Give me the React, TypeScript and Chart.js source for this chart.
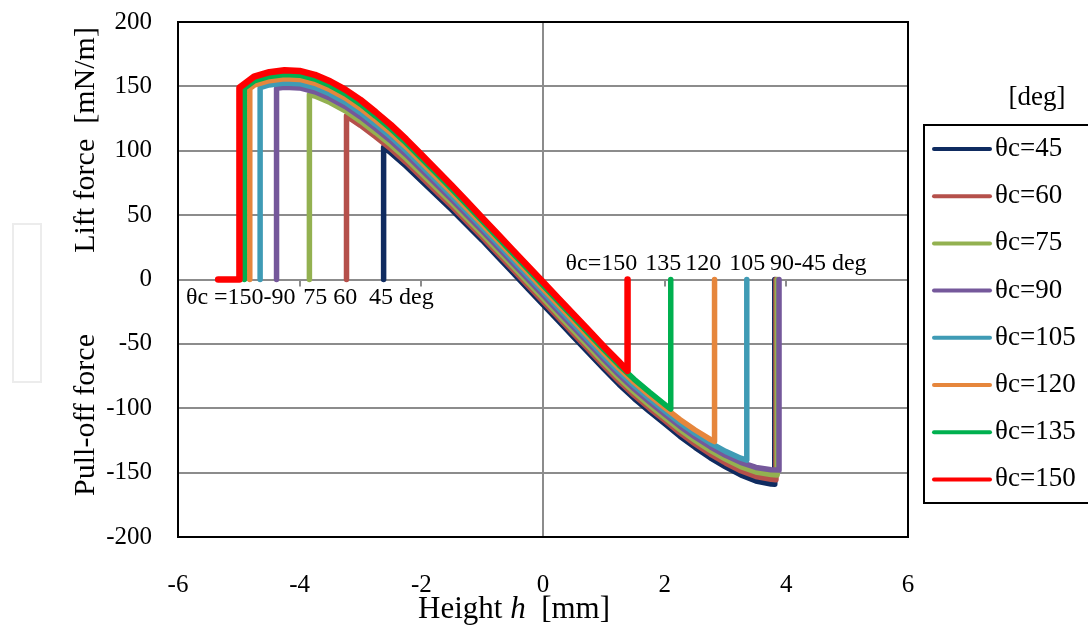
import { useEffect, useRef } from 'react';
import { Chart, registerables } from 'chart.js';

Chart.register(...registerables);

const FONT = '"Liberation Serif", "Times New Roman", serif';

const seriesLabels = ['θc=45', 'θc=60', 'θc=75', 'θc=90', 'θc=105', 'θc=120', 'θc=135', 'θc=150'];
const seriesColors = ['#0f2b60', '#b5504b', '#93b150', '#75589b', '#3f9bb5', '#e6863c', '#00b04f', '#ff0000'];

const xTickValues = [-6, -4, -2, 0, 2, 4, 6];
const yTickStep = 50;

// [height h (mm), force (mN/m)]
const theta45 = [[-2.62,0],[-2.62,102.8],[-2.5,98.3],[-2.25,88],[-2,76.7],[-1.75,65.4],[-1.5,54.1],[-1.25,42.3],[-1,30.5],[-0.75,18],[-0.5,5.5],[-0.25,-7],[0,-19.5],[0.25,-32],[0.5,-44.5],[0.75,-57],[1,-69.5],[1.25,-81.5],[1.5,-92.5],[1.75,-102.5],[2,-112],[2.25,-121.7],[2.5,-130.4],[2.75,-138.5],[3,-145.5],[3.25,-151.8],[3.5,-156.5],[3.75,-158.9],[3.81,-159],[3.81,0]];
const theta60 = [[-3.23,0],[-3.23,127.1],[-3,119.7],[-2.75,110.8],[-2.5,101.4],[-2.25,91],[-2,79.6],[-1.75,68.2],[-1.5,56.8],[-1.25,44.9],[-1,33],[-0.75,20.5],[-0.5,8],[-0.25,-4.5],[0,-17],[0.25,-29.5],[0.5,-42],[0.75,-54.5],[1,-67],[1.25,-79],[1.5,-90],[1.75,-100],[2,-109.5],[2.25,-119.1],[2.5,-127.7],[2.75,-135.6],[3,-142.5],[3.25,-148.5],[3.5,-153],[3.75,-155.2],[3.83,-155.5],[3.83,0]];
const theta75 = [[-3.84,0],[-3.84,143.6],[-3.75,142.5],[-3.5,137.5],[-3.25,131],[-3,123],[-2.75,114],[-2.5,104.5],[-2.25,94],[-2,82.5],[-1.75,71],[-1.5,59.5],[-1.25,47.5],[-1,35.5],[-0.75,23],[-0.5,10.5],[-0.25,-2],[0,-14.5],[0.25,-27],[0.5,-39.5],[0.75,-52],[1,-64.5],[1.25,-76.5],[1.5,-87.5],[1.75,-97.5],[2,-107],[2.25,-116.5],[2.5,-125],[2.75,-132.8],[3,-139.5],[3.25,-145.3],[3.5,-149.5],[3.75,-151.5],[3.85,-151.8],[3.85,0]];
const theta90 = [[-4.38,0],[-4.38,148.5],[-4.25,149.3],[-4,148.8],[-3.75,145.8],[-3.5,140.8],[-3.25,134.3],[-3,126.3],[-2.75,117.2],[-2.5,107.6],[-2.25,97],[-2,85.4],[-1.75,73.8],[-1.5,62.2],[-1.25,50.1],[-1,38],[-0.75,25.5],[-0.5,13],[-0.25,0.5],[0,-12],[0.25,-24.5],[0.5,-37],[0.75,-49.5],[1,-62],[1.25,-74],[1.5,-85],[1.75,-95],[2,-104.5],[2.25,-113.9],[2.5,-122.3],[2.75,-129.9],[3,-136.5],[3.25,-142],[3.5,-146],[3.75,-147.8],[3.88,-148],[3.88,0]];
const theta105 = [[-4.65,0],[-4.65,149],[-4.5,151.1],[-4.25,152.6],[-4,152.1],[-3.75,149.1],[-3.5,144.1],[-3.25,137.6],[-3,129.6],[-2.75,120.4],[-2.5,110.7],[-2.25,100],[-2,88.3],[-1.75,76.6],[-1.5,64.9],[-1.25,52.7],[-1,40.5],[-0.75,28],[-0.5,15.5],[-0.25,3],[0,-9.5],[0.25,-22],[0.5,-34.5],[0.75,-47],[1,-59.5],[1.25,-71.5],[1.5,-82.5],[1.75,-92.5],[2,-102],[2.25,-111.3],[2.5,-119.6],[2.75,-127],[3,-133.5],[3.25,-138.8],[3.35,-140.3],[3.35,0]];
const theta120 = [[-4.82,0],[-4.82,148.4],[-4.75,150.9],[-4.5,154.4],[-4.25,155.9],[-4,155.4],[-3.75,152.4],[-3.5,147.4],[-3.25,140.9],[-3,132.9],[-2.75,123.6],[-2.5,113.8],[-2.25,103],[-2,91.2],[-1.75,79.4],[-1.5,67.6],[-1.25,55.3],[-1,43],[-0.75,30.5],[-0.5,18],[-0.25,5.5],[0,-7],[0.25,-19.5],[0.5,-32],[0.75,-44.5],[1,-57],[1.25,-69],[1.5,-80],[1.75,-90],[2,-99.5],[2.25,-108.7],[2.5,-116.9],[2.75,-124.2],[2.82,-125.9],[2.82,0]];
const theta135 = [[-4.91,0],[-4.91,148.5],[-4.75,154.2],[-4.5,157.7],[-4.25,159.2],[-4,158.7],[-3.75,155.7],[-3.5,150.7],[-3.25,144.2],[-3,136.2],[-2.75,126.8],[-2.5,116.9],[-2.25,106],[-2,94.1],[-1.75,82.2],[-1.5,70.3],[-1.25,57.9],[-1,45.5],[-0.75,33],[-0.5,20.5],[-0.25,8],[0,-4.5],[0.25,-17],[0.5,-29.5],[0.75,-42],[1,-54.5],[1.25,-66.5],[1.5,-77.5],[1.75,-87.5],[2,-97],[2.1,-100.7],[2.1,0]];
const theta150 = [[-5.34,0],[-4.99,0],[-4.99,149],[-4.75,157.5],[-4.5,161],[-4.25,162.5],[-4,162],[-3.75,159],[-3.5,154],[-3.25,147.5],[-3,139.5],[-2.75,130],[-2.5,120],[-2.25,109],[-2,97],[-1.75,85],[-1.5,73],[-1.25,60.5],[-1,48],[-0.75,35.5],[-0.5,23],[-0.25,10.5],[0,-2],[0.25,-14.5],[0.5,-27],[0.75,-39.5],[1,-52],[1.25,-64],[1.39,-71],[1.39,0]];

const leftNotes: [string, number][] = [['θc =150-90', -5.87], ['75', -3.94], ['60', -3.45], ['45 deg', -2.86]];
const rightNotes: [string, number][] = [['θc=150', 0.37], ['135', 1.68], ['120', 2.34], ['105', 3.06], ['90-45 deg', 3.73]];

export default function App() {
  const ref = useRef<HTMLCanvasElement>(null);

  useEffect(() => {
    const series = [theta45, theta60, theta75, theta90, theta105, theta120, theta135, theta150];
    const datasets = series.map((pts, i) => ({
      label: seriesLabels[i],
      data: pts.map(([x, y]) => ({ x, y })),
      borderColor: seriesColors[i],
      backgroundColor: seriesColors[i],
      borderWidth: i === 7 ? 6.5 : 5.5,
      pointRadius: 0,
      pointHoverRadius: 0,
      showLine: true,
      tension: 0,
      borderJoinStyle: 'round' as const,
      borderCapStyle: 'round' as const,
      order: 7 - i,
    }));

    const overlay = {
      id: 'overlay',
      beforeDatasetsDraw(chart: any) {
        const { ctx, scales } = chart;
        const y0 = scales.y.getPixelForValue(0);
        ctx.save();
        ctx.strokeStyle = '#8c8c8c';
        ctx.lineWidth = 2;
        xTickValues.forEach((v) => {
          if (v === 0 || v === -6 || v === 6) return;
          const x = Math.round(scales.x.getPixelForValue(v));
          ctx.beginPath();
          ctx.moveTo(x, y0);
          ctx.lineTo(x, y0 + 7);
          ctx.stroke();
        });
        ctx.restore();
      },
      afterDraw(chart: any) {
        const { ctx, chartArea, scales } = chart;
        const { left, top, right, bottom } = chartArea;
        ctx.save();
        // plot frame
        ctx.strokeStyle = '#000';
        ctx.lineWidth = 2;
        ctx.strokeRect(left, top, right - left, bottom - top);

        // annotations
        ctx.fillStyle = '#000';
        ctx.textBaseline = 'middle';
        ctx.textAlign = 'left';
        ctx.font = `24px ${FONT}`;
        leftNotes.forEach(([t, v]) => ctx.fillText(t, scales.x.getPixelForValue(v), scales.y.getPixelForValue(-14.5)));
        rightNotes.forEach(([t, v]) => ctx.fillText(t, scales.x.getPixelForValue(v), scales.y.getPixelForValue(12.5)));

        // axis titles
        ctx.font = `30px ${FONT}`;
        ctx.textAlign = 'center';
        ctx.save();
        ctx.translate(86, 140);
        ctx.rotate(-Math.PI / 2);
        ctx.fillText('Lift force  [mN/m]', 0, 0);
        ctx.restore();
        ctx.save();
        ctx.translate(86, 415);
        ctx.rotate(-Math.PI / 2);
        ctx.fillText('Pull-off force', 0, 0);
        ctx.restore();

        // x title with italic h
        const p1 = 'Height ';
        const p3 = '  [mm]';
        ctx.font = `31px ${FONT}`;
        const w1 = ctx.measureText(p1).width;
        const w3 = ctx.measureText(p3).width;
        ctx.font = `italic 31px ${FONT}`;
        const w2 = ctx.measureText('h').width;
        const total = w1 + w2 + w3;
        let x = 514 - total / 2;
        ctx.textAlign = 'left';
        ctx.font = `31px ${FONT}`;
        ctx.fillText(p1, x, 610);
        x += w1;
        ctx.font = `italic 31px ${FONT}`;
        ctx.fillText('h', x, 610);
        x += w2;
        ctx.font = `31px ${FONT}`;
        ctx.fillText(p3, x, 610);

        // legend
        ctx.strokeStyle = '#000';
        ctx.lineWidth = 2;
        ctx.strokeRect(924, 125, 170, 378);
        ctx.font = `27px ${FONT}`;
        ctx.textAlign = 'center';
        ctx.fillText('[deg]', 1037, 98);
        ctx.textAlign = 'left';
        seriesLabels.forEach((lab, i) => {
          const y = 149 + 47.2 * i;
          ctx.strokeStyle = seriesColors[i];
          ctx.lineWidth = 4;
          ctx.lineCap = 'round';
          ctx.beginPath();
          ctx.moveTo(934, y);
          ctx.lineTo(990, y);
          ctx.stroke();
          ctx.fillStyle = '#000';
          ctx.fillText(lab, 995, y);
        });

        // faint box at left edge
        ctx.strokeStyle = '#ececec';
        ctx.lineWidth = 2;
        ctx.strokeRect(13, 224, 28, 158);
        ctx.restore();
      },
    };

    const chart = new Chart(ref.current as HTMLCanvasElement, {
      type: 'scatter',
      data: { datasets: datasets as any },
      options: {
        animation: false,
        responsive: true,
        maintainAspectRatio: false,
        events: [],
        layout: { padding: { top: 22, right: 180, left: 0, bottom: 0 } },
        plugins: { legend: { display: false }, tooltip: { enabled: false } },
        scales: {
          x: {
            type: 'linear',
            min: -6,
            max: 6,
            afterBuildTicks: (s: any) => { s.ticks = xTickValues.map((v) => ({ value: v })); },
            ticks: { font: { size: 25, family: FONT }, color: '#000', padding: 33, maxRotation: 0 },
            grid: {
              color: (c: any) => (c.tick && c.tick.value === 0 ? '#8c8c8c' : 'rgba(0,0,0,0)'),
              lineWidth: 2,
              drawTicks: false,
            },
            border: { display: false },
            afterFit: (s: any) => { s.height = 95; s.paddingLeft = 0; s.paddingRight = 0; },
          },
          y: {
            type: 'linear',
            min: -200,
            max: 200,
            ticks: { stepSize: yTickStep, font: { size: 25, family: FONT }, color: '#000', padding: 26 },
            grid: { color: '#8c8c8c', lineWidth: 2, drawTicks: false },
            border: { display: false },
            afterFit: (s: any) => { s.width = 178; s.paddingTop = 0; s.paddingBottom = 0; },
          },
        },
      },
      plugins: [overlay],
    });
    return () => chart.destroy();
  }, []);

  return (
    <div style={{ position: 'fixed', left: 0, top: 0, width: 1088, height: 632, background: '#fff' }}>
      <canvas ref={ref} />
    </div>
  );
}
